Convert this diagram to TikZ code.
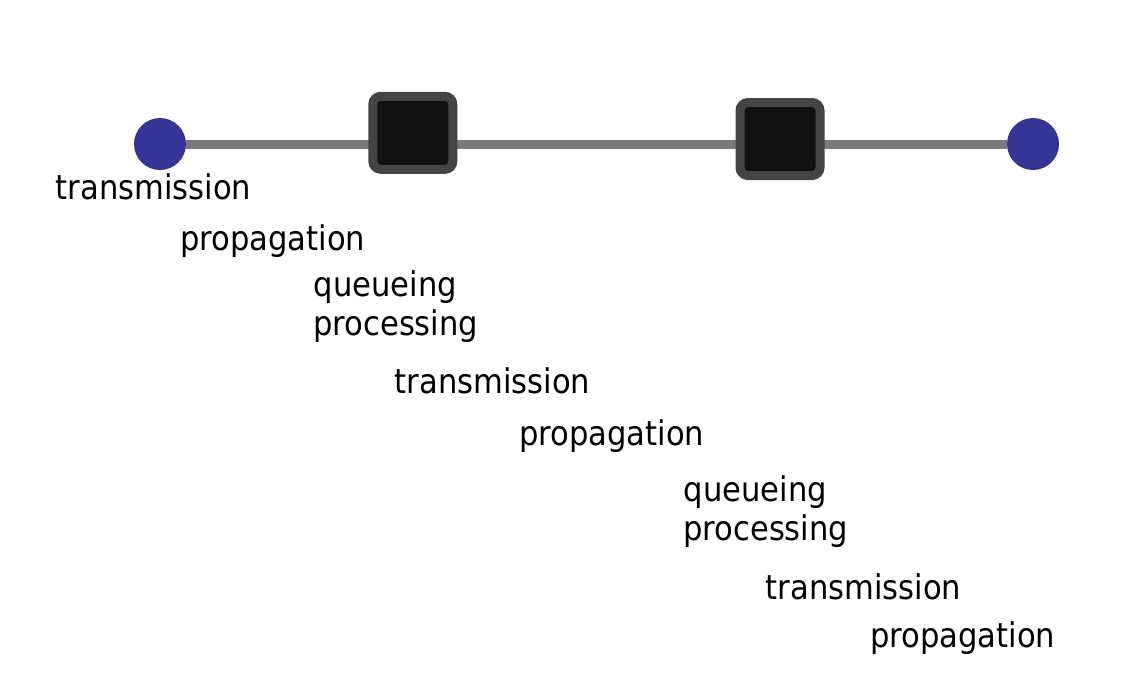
\documentclass[tikz,border=0pt]{standalone}
\usepackage{fontspec}
\setmainfont{DejaVu Sans}[FakeStretch=0.9]
\usetikzlibrary{backgrounds}
\definecolor{hostblue}{RGB}{53,53,151}
\definecolor{linkgray}{RGB}{122,122,122}
\definecolor{routeredge}{RGB}{68,68,68}
\definecolor{routerfill}{RGB}{17,17,17}
\begin{document}
\begin{tikzpicture}[x=0.75pt, y=-0.75pt,
          host/.style = {shape=circle, fill=hostblue, inner sep=0pt, minimum size=39pt},
          router/.style = {shape=rectangle, draw=routeredge, fill=routerfill, line width=6.75pt, rounded corners=6pt, inner sep=0pt, minimum width=60pt, minimum height=54.75pt},
          delay/.style = {anchor=base west, inner sep=0pt, font=\fontsize{25.5}{31}\selectfont}]
          \useasboundingbox (0,0) rectangle (1141,676);
          % end hosts and routers
          \node[host] (src) at (160,144) {};
          \node[host] (dst) at (1033,144) {};
          \node[router] (r1) at (412.8,132.8) {};
          \node[router] (r2) at (780,139) {};
          \begin{scope}[on background layer]
            \draw[linkgray, line width=6.75pt] (src) -- (dst);
          \end{scope}
          % delays along the path
          \node[delay] (trans1) at (55.5,199) {transmission};
          \node[delay] (prop1) at (180,250) {propagation};
          \node[delay] (queue1) at (313.5,296) {queueing};
          \node[delay] (proc1) at (313,335) {processing};
          \node[delay] (trans2) at (394.5,393) {transmission};
          \node[delay] (prop2) at (519,445) {propagation};
          \node[delay] (queue2) at (683.5,501) {queueing};
          \node[delay] (proc2) at (683,540) {processing};
          \node[delay] (trans3) at (765.5,599) {transmission};
          \node[delay] (prop3) at (870,647) {propagation};
\end{tikzpicture}
\end{document}
